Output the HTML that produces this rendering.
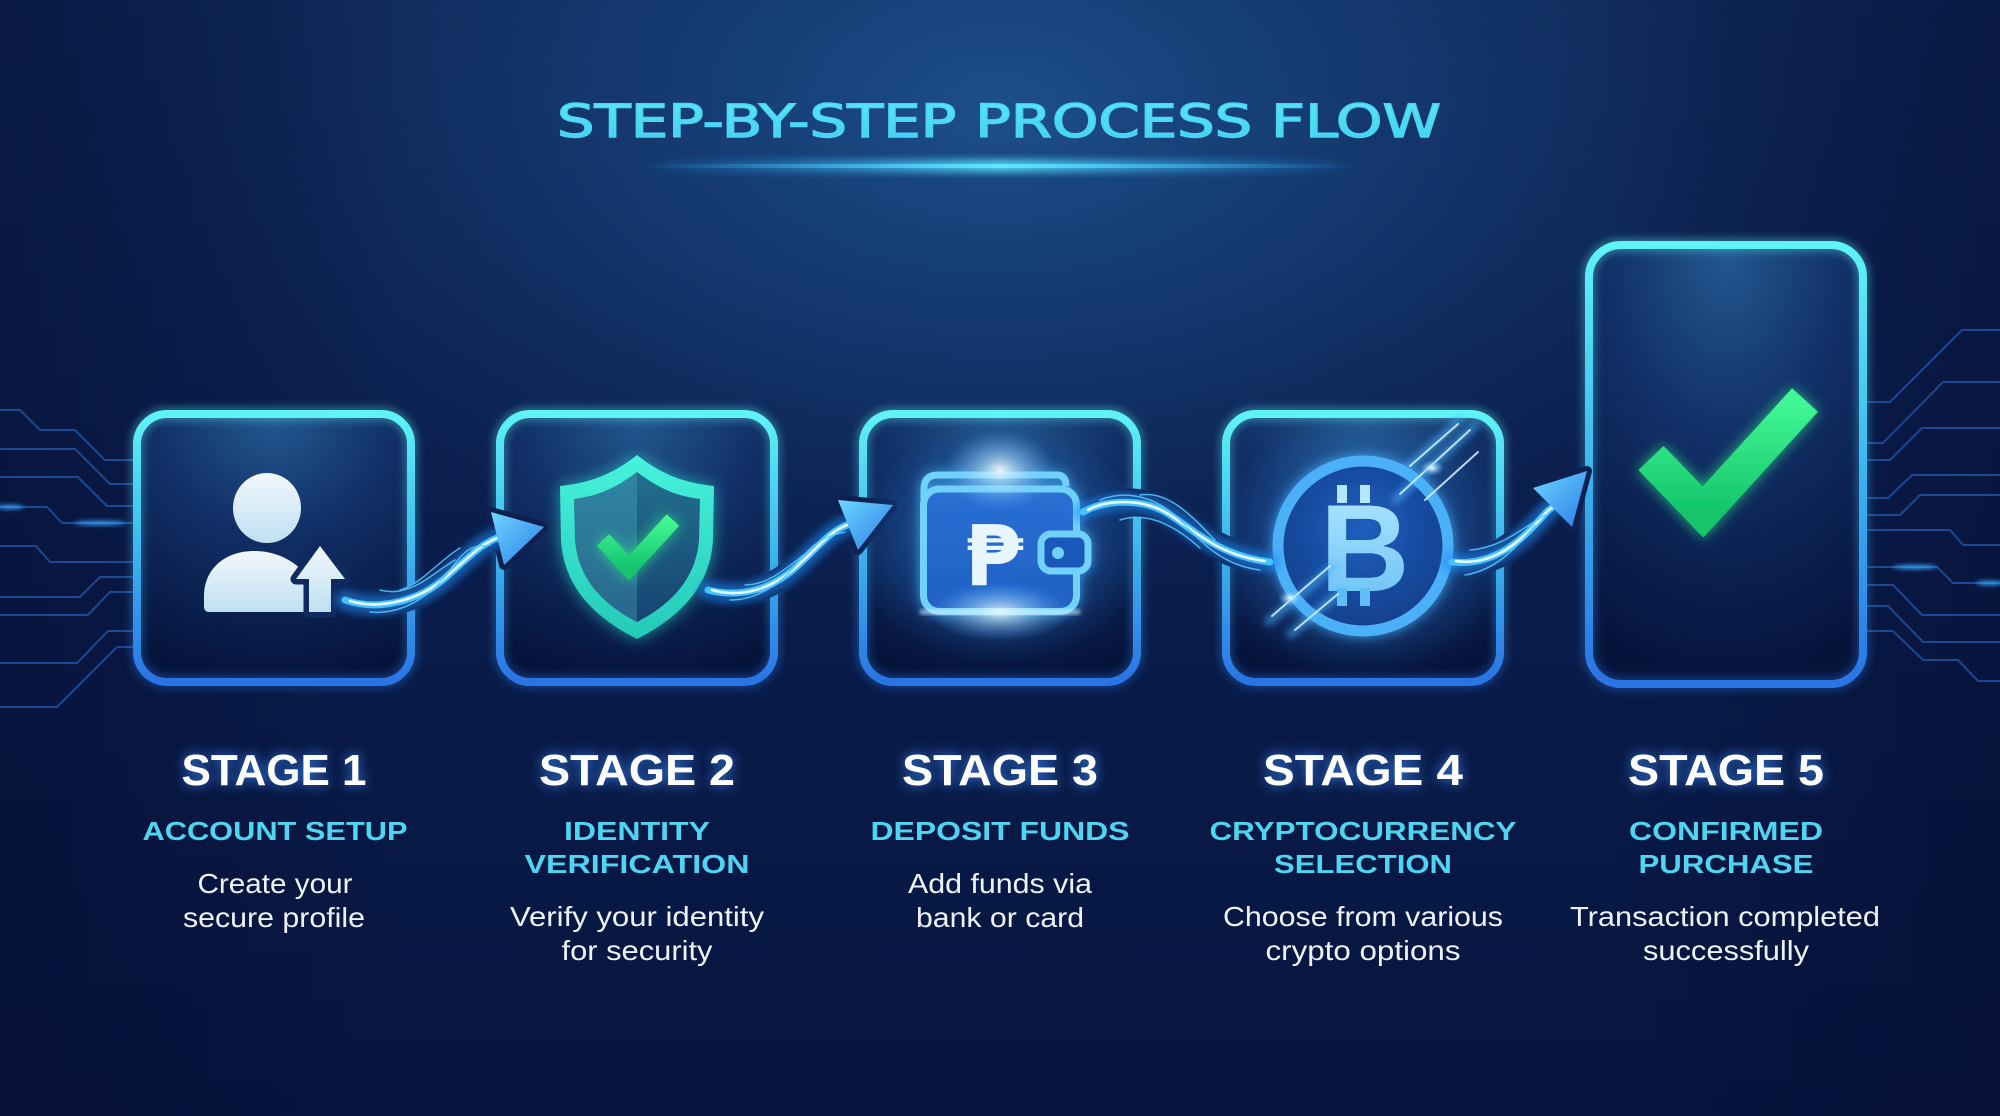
<!DOCTYPE html>
<html><head><meta charset="utf-8">
<style>
html,body{margin:0;padding:0;width:2000px;height:1116px;overflow:hidden;background:#0a1b48}
svg{display:block}
</style></head><body>
<svg width="2000" height="1116" viewBox="0 0 2000 1116" xmlns="http://www.w3.org/2000/svg">
<defs>
  <linearGradient id="bgl" x1="0" y1="0" x2="0" y2="1">
    <stop offset="0" stop-color="#0f2858"/>
    <stop offset="0.5" stop-color="#0a1d4c"/>
    <stop offset="1" stop-color="#07153f"/>
  </linearGradient>
  <radialGradient id="bgr" cx="1000" cy="110" r="900" gradientUnits="userSpaceOnUse" gradientTransform="translate(1000 110) scale(1 0.6) translate(-1000 -110)">
    <stop offset="0" stop-color="#1d4f8b" stop-opacity="1"/>
    <stop offset="0.5" stop-color="#163f78" stop-opacity="0.6"/>
    <stop offset="1" stop-color="#0f2858" stop-opacity="0"/>
  </radialGradient>
  <linearGradient id="vig" x1="0" y1="0" x2="1" y2="0">
    <stop offset="0" stop-color="#050f33" stop-opacity="0.55"/>
    <stop offset="0.2" stop-color="#050f33" stop-opacity="0"/>
    <stop offset="0.8" stop-color="#050f33" stop-opacity="0"/>
    <stop offset="1" stop-color="#050f33" stop-opacity="0.55"/>
  </linearGradient>
  <radialGradient id="boxfill" cx="0.5" cy="0" r="1" fx="0.5" fy="0">
    <stop offset="0" stop-color="#235990"/>
    <stop offset="0.45" stop-color="#112f66"/>
    <stop offset="1" stop-color="#06143c"/>
  </radialGradient>
  <linearGradient id="border" x1="0" y1="0" x2="0" y2="1">
    <stop offset="0" stop-color="#5ff3f6"/>
    <stop offset="0.5" stop-color="#3db6ee"/>
    <stop offset="1" stop-color="#2a74e4"/>
  </linearGradient>
  <linearGradient id="uline" x1="0" y1="0" x2="1" y2="0">
    <stop offset="0" stop-color="#2aa8ff" stop-opacity="0"/>
    <stop offset="0.5" stop-color="#5ce8ff" stop-opacity="1"/>
    <stop offset="1" stop-color="#2aa8ff" stop-opacity="0"/>
  </linearGradient>
  <linearGradient id="person" x1="0" y1="0" x2="0" y2="1">
    <stop offset="0" stop-color="#f2f8fc"/>
    <stop offset="1" stop-color="#bfe0f2"/>
  </linearGradient>
  <linearGradient id="shieldO" x1="0" y1="0" x2="0" y2="1">
    <stop offset="0" stop-color="#47f2dc"/>
    <stop offset="1" stop-color="#25c9b8"/>
  </linearGradient>
  <linearGradient id="shieldI" x1="0" y1="0" x2="0" y2="1">
    <stop offset="0" stop-color="#22708e"/>
    <stop offset="1" stop-color="#174372"/>
  </linearGradient>
  <linearGradient id="green" x1="0" y1="0" x2="0" y2="1">
    <stop offset="0" stop-color="#42f894"/>
    <stop offset="1" stop-color="#14c46c"/>
  </linearGradient>
  <linearGradient id="wallet" x1="0" y1="0" x2="0" y2="1">
    <stop offset="0" stop-color="#2a70d4"/>
    <stop offset="1" stop-color="#2160c4"/>
  </linearGradient>
  <radialGradient id="flare">
    <stop offset="0" stop-color="#ffffff" stop-opacity="1"/>
    <stop offset="0.3" stop-color="#bfe8ff" stop-opacity="0.7"/>
    <stop offset="1" stop-color="#5ab0ff" stop-opacity="0"/>
  </radialGradient>
  <radialGradient id="blueglow">
    <stop offset="0" stop-color="#2f8cf0" stop-opacity="0.6"/>
    <stop offset="1" stop-color="#2f8cf0" stop-opacity="0"/>
  </radialGradient>
  <radialGradient id="coin" cx="0.5" cy="0.4" r="0.6">
    <stop offset="0" stop-color="#1f5fbe"/>
    <stop offset="1" stop-color="#133f8c"/>
  </radialGradient>
  <linearGradient id="btc" x1="0" y1="0" x2="0" y2="1">
    <stop offset="0" stop-color="#b4e8ff"/>
    <stop offset="1" stop-color="#64bef6"/>
  </linearGradient>
  <linearGradient id="arrowG" x1="0" y1="0" x2="1" y2="1">
    <stop offset="0" stop-color="#6fd6ff"/>
    <stop offset="1" stop-color="#2a7ee8"/>
  </linearGradient>
  <linearGradient id="titleG" x1="0" y1="0" x2="0" y2="1">
    <stop offset="0" stop-color="#5ee8f8"/>
    <stop offset="1" stop-color="#3fcdf0"/>
  </linearGradient>
  <filter id="b2" x="-50%" y="-50%" width="200%" height="200%"><feGaussianBlur stdDeviation="2"/></filter>
  <filter id="b4" x="-50%" y="-50%" width="200%" height="200%"><feGaussianBlur stdDeviation="4"/></filter>
  <filter id="b8" x="-50%" y="-50%" width="200%" height="200%"><feGaussianBlur stdDeviation="8"/></filter>
  <filter id="tglow" x="-20%" y="-40%" width="140%" height="180%">
    <feGaussianBlur in="SourceAlpha" stdDeviation="6" result="b"/>
    <feFlood flood-color="#3a8cff" flood-opacity="0.85"/>
    <feComposite in2="b" operator="in" result="g"/>
    <feMerge><feMergeNode in="g"/><feMergeNode in="SourceGraphic"/></feMerge>
  </filter>
  <filter id="gglow" x="-40%" y="-40%" width="180%" height="180%">
    <feGaussianBlur in="SourceAlpha" stdDeviation="7" result="b"/>
    <feFlood flood-color="#2ef08c" flood-opacity="0.7"/>
    <feComposite in2="b" operator="in" result="g"/>
    <feMerge><feMergeNode in="g"/><feMergeNode in="SourceGraphic"/></feMerge>
  </filter>
  <filter id="teal" x="-40%" y="-40%" width="180%" height="180%">
    <feGaussianBlur in="SourceAlpha" stdDeviation="8" result="b"/>
    <feFlood flood-color="#2ee8d0" flood-opacity="0.6"/>
    <feComposite in2="b" operator="in" result="g"/>
    <feMerge><feMergeNode in="g"/><feMergeNode in="SourceGraphic"/></feMerge>
  </filter>
  <filter id="cglow" x="-40%" y="-40%" width="180%" height="180%">
    <feGaussianBlur in="SourceAlpha" stdDeviation="6" result="b"/>
    <feFlood flood-color="#4ab8ff" flood-opacity="0.8"/>
    <feComposite in2="b" operator="in" result="g"/>
    <feMerge><feMergeNode in="g"/><feMergeNode in="SourceGraphic"/></feMerge>
  </filter>
</defs>

<!-- background -->
<rect width="2000" height="1116" fill="url(#bgl)"/>
<rect width="2000" height="1116" fill="url(#bgr)"/>
<rect width="2000" height="1116" fill="url(#vig)"/>

<!-- title -->
<text x="999" y="137" text-anchor="middle" font-family="'DejaVu Sans', sans-serif" font-size="45" textLength="884" lengthAdjust="spacingAndGlyphs" fill="url(#titleG)" stroke="#4ad6f4" stroke-width="1.4">STEP-BY-STEP PROCESS FLOW</text>
<rect x="640" y="160" width="720" height="12" fill="url(#uline)" filter="url(#b4)" opacity="0.9"/>
<rect x="640" y="164" width="720" height="4" fill="url(#uline)"/>

<!-- circuit lines -->
<g fill="none" stroke="#1e4f9c" stroke-width="2" opacity="0.9">
  <path d="M0,410 H20 L40,430 H75 L105,460 H133"/>
  <path d="M0,449 H75 L110,484 H133"/>
  <path d="M0,477 H78 L107,506 H133"/>
  <path d="M0,507 H47 L62,523 H133"/>
  <path d="M0,546 H36 L50,562 H133"/>
  <path d="M0,597 H80 L100,577 H133"/>
  <path d="M0,615 H88 L110,592 H133"/>
  <path d="M0,663 H77 L108,631 H133"/>
  <path d="M0,707 H57 L117,647 H133"/>
  <path d="M1867,402 H1890 L1962,330 H2000"/>
  <path d="M1867,443 H1883 L1943,382 H2000"/>
  <path d="M1867,460 H1890 L1922,428 H2000"/>
  <path d="M1867,498 H1888 L1912,475 H2000"/>
  <path d="M1867,515 H1900 L1920,495 H2000"/>
  <path d="M1867,530 H1950 L1963,545 H2000"/>
  <path d="M1867,567 H1937 L1953,583 H2000"/>
  <path d="M1867,585 H1893 L1922,615 H2000"/>
  <path d="M1867,606 H1888 L1923,642 H2000"/>
  <path d="M1867,631 H1893 L1923,660 H1958 L1978,681 H2000"/>
</g>
<g fill="#3aa8ff" filter="url(#b2)">
  <ellipse cx="10" cy="507" rx="14" ry="2"/>
  <ellipse cx="100" cy="523" rx="26" ry="2"/>
  <ellipse cx="1915" cy="567" rx="22" ry="2"/>
  <ellipse cx="1990" cy="583" rx="14" ry="2"/>
</g>

<!-- boxes -->
<g>
  <rect x="137" y="414" width="274" height="268" rx="30" fill="url(#boxfill)"/>
  <rect x="500" y="414" width="274" height="268" rx="30" fill="url(#boxfill)"/>
  <rect x="863" y="414" width="274" height="268" rx="30" fill="url(#boxfill)"/>
  <rect x="1226" y="414" width="274" height="268" rx="30" fill="url(#boxfill)"/>
  <rect x="1589" y="245" width="274" height="439" rx="32" fill="url(#boxfill)"/>
</g>
<g fill="none" stroke="url(#border)" stroke-width="14" opacity="0.35" filter="url(#b4)">
  <rect x="137" y="414" width="274" height="268" rx="30"/>
  <rect x="500" y="414" width="274" height="268" rx="30"/>
  <rect x="863" y="414" width="274" height="268" rx="30"/>
  <rect x="1226" y="414" width="274" height="268" rx="30"/>
  <rect x="1589" y="245" width="274" height="439" rx="32"/>
</g>
<g fill="none" stroke="url(#border)" stroke-width="8">
  <rect x="137" y="414" width="274" height="268" rx="30"/>
  <rect x="500" y="414" width="274" height="268" rx="30"/>
  <rect x="863" y="414" width="274" height="268" rx="30"/>
  <rect x="1226" y="414" width="274" height="268" rx="30"/>
  <rect x="1589" y="245" width="274" height="439" rx="32"/>
</g>

<!-- connector halos (gaps in borders) -->
<g fill="none" stroke="#0c2150" stroke-linecap="round">
  <path d="M345,600 C380,612 420,600 445,578 S480,545 497,538" stroke-width="24"/>
  <path d="M708,590 C740,598 770,590 795,568 S830,530 850,524" stroke-width="24"/>
  <path d="M1083,512 C1105,500 1140,498 1165,512 S1215,555 1270,562" stroke-width="28"/>
  <path d="M1452,562 C1490,566 1515,545 1530,530 S1545,512 1553,507" stroke-width="28"/>
</g>
<g fill="#0c2150" stroke="#0c2150" stroke-width="10" stroke-linejoin="round">
  <polygon points="491,512 544,527 504,565"/>
  <polygon points="838,500 893,505 858,550"/>
  <polygon points="1533,488 1587,471 1572,527"/>
</g>

<!-- icon 1: person -->
<ellipse cx="267" cy="508" rx="34" ry="35" fill="url(#person)"/>
<path d="M209,612 Q204,612 204,606 L204,596 C204,568 226,551 254,551 C276,551 292,560 304,572 L304,612 Z" fill="url(#person)"/>
<polygon points="320,546 345,579 331,579 331,612 309,612 309,579 296,579" fill="#0f2a5e" stroke="#0f2a5e" stroke-width="11" stroke-linejoin="round"/>
<polygon points="320,546 345,579 331,579 331,612 309,612 309,579 296,579" fill="url(#person)"/>

<!-- icon 2: shield -->
<g filter="url(#teal)">
  <path d="M637,455 C612,475 589,483 560,486 L561,540 C564,587 594,617 637,639 C680,617 710,587 713,540 L714,486 C685,483 662,475 637,455 Z" fill="url(#shieldO)"/>
</g>
<path d="M637,472 C616,488 598,496 574,499 L575,540 C578,578 602,604 637,622 C672,604 696,578 699,540 L700,499 C676,496 658,488 637,472 Z" fill="url(#shieldI)"/>
<path d="M637,472 C616,488 598,496 574,499 L575,540 C578,578 602,604 637,622 Z" fill="#4ab0c4" opacity="0.35"/>
<path d="M603,540 L629,568 L673,520" fill="none" stroke="url(#green)" stroke-width="17" filter="url(#gglow)"/>

<!-- icon 3: wallet -->
<ellipse cx="1000" cy="545" rx="150" ry="120" fill="url(#blueglow)"/>
<g filter="url(#cglow)">
  <rect x="923.5" y="489" width="153" height="122.5" rx="16" fill="url(#wallet)" stroke="#6fd2fb" stroke-width="7"/>
  <path d="M924,502 L924,489 Q924,475 938,475 L1057,475 Q1066,475 1066,486" fill="none" stroke="#6fd2fb" stroke-width="7"/>
  <rect x="1041" y="534" width="47" height="37" rx="10" fill="#1c58bc" stroke="#6fd2fb" stroke-width="7"/>
  <circle cx="1058" cy="553" r="6" fill="#6fd2fb"/>
</g>
<text x="994" y="585" text-anchor="middle" font-family="'DejaVu Sans', sans-serif" font-weight="bold" font-size="84" fill="#e8f7ff">₱</text>
<ellipse cx="1000" cy="470" rx="55" ry="40" fill="url(#flare)" opacity="0.9"/>
<ellipse cx="1000" cy="612" rx="70" ry="30" fill="url(#flare)" opacity="0.85"/>
<rect x="920" y="610" width="160" height="4" fill="#d8f4ff" filter="url(#b2)" opacity="0.8"/>

<!-- icon 4: bitcoin -->
<ellipse cx="1363" cy="546" rx="150" ry="130" fill="url(#blueglow)"/>
<circle cx="1363" cy="546" r="85" fill="url(#coin)" stroke="#4cb0f8" stroke-width="11" filter="url(#cglow)"/>
<text x="1320" y="591" font-family="'Liberation Sans', sans-serif" font-weight="bold" font-size="124" fill="url(#btc)">B</text>
<g fill="#b4e8ff">
  <rect x="1337" y="485" width="10" height="18"/>
  <rect x="1360" y="485" width="10" height="18"/>
</g>
<g fill="#64bef6">
  <rect x="1337" y="588" width="10" height="18"/>
  <rect x="1360" y="588" width="10" height="18"/>
</g>
<g stroke-linecap="round" fill="none">
  <g filter="url(#b4)" stroke="#49b4ff" stroke-width="6" opacity="0.8">
    <line x1="1268" y1="622" x2="1335" y2="565"/>
    <line x1="1290" y1="635" x2="1340" y2="592"/>
    <line x1="1395" y1="500" x2="1475" y2="425"/>
    <line x1="1405" y1="470" x2="1460" y2="420"/>
  </g>
  <g stroke="#d8f4ff" stroke-width="2" opacity="0.85">
    <line x1="1272" y1="616" x2="1330" y2="566"/>
    <line x1="1295" y1="630" x2="1338" y2="594"/>
    <line x1="1400" y1="494" x2="1470" y2="430"/>
    <line x1="1410" y1="466" x2="1458" y2="424"/>
    <line x1="1425" y1="500" x2="1478" y2="452"/>
  </g>
</g>
<ellipse cx="1290" cy="598" rx="12" ry="8" fill="url(#flare)"/>
<ellipse cx="1432" cy="468" rx="12" ry="8" fill="url(#flare)"/>

<!-- icon 5: check -->
<path d="M1651,458 L1703,512 L1805,400" fill="none" stroke="url(#green)" stroke-width="35" stroke-linejoin="miter" filter="url(#gglow)"/>

<!-- connectors -->
<g fill="none" stroke-linecap="round">
  <g stroke="#1e8af5" stroke-width="20" opacity="0.55" filter="url(#b4)">
    <path d="M345,600 C380,612 420,600 445,578 S480,545 497,538"/>
    <path d="M708,590 C740,598 770,590 795,568 S830,530 850,524"/>
    <path d="M1083,512 C1105,500 1140,498 1165,512 S1215,555 1270,562"/>
    <path d="M1452,562 C1490,566 1515,545 1530,530 S1545,512 1553,507"/>
  </g>
  <g stroke="#44c4ff" stroke-width="7">
    <path d="M345,600 C380,612 420,600 445,578 S480,545 497,538"/>
    <path d="M708,590 C740,598 770,590 795,568 S830,530 850,524"/>
    <path d="M1083,512 C1105,500 1140,498 1165,512 S1215,555 1270,562"/>
    <path d="M1452,562 C1490,566 1515,545 1530,530 S1545,512 1553,507"/>
  </g>
  <g stroke="#effcff" stroke-width="2.6">
    <path d="M350,601 C380,610 420,600 445,578 S480,545 497,538"/>
    <path d="M712,590 C740,598 770,590 795,568 S830,530 850,524"/>
    <path d="M1088,510 C1105,500 1140,498 1165,512 S1215,555 1265,561"/>
    <path d="M1456,561 C1490,566 1515,545 1530,530 S1545,512 1553,507"/>
  </g>
  <g stroke="#5ac8ff" stroke-width="1.5" opacity="0.85">
    <path d="M370,612 C400,615 430,598 450,570 S475,548 490,545"/>
    <path d="M400,590 C420,585 440,560 460,548"/>
    <path d="M380,590 C410,598 430,575 455,560"/>
    <path d="M730,600 C760,600 785,580 800,560 S830,535 845,532"/>
    <path d="M745,585 C770,585 790,565 810,550"/>
    <path d="M1100,500 C1130,488 1160,500 1180,520 S1220,565 1260,570"/>
    <path d="M1120,520 C1150,510 1180,530 1200,548"/>
    <path d="M1140,495 C1170,490 1195,520 1215,540"/>
    <path d="M1465,575 C1495,570 1515,550 1535,525"/>
    <path d="M1470,550 C1500,548 1520,530 1545,515"/>
  </g>
</g>
<g>
  <polygon points="491,512 544,527 504,565" fill="url(#arrowG)"/>
  <polygon points="838,500 893,505 858,550" fill="url(#arrowG)"/>
  <polygon points="1533,488 1587,471 1572,527" fill="url(#arrowG)"/>
</g>

<!-- stage labels -->
<g font-family="'Liberation Sans', sans-serif" font-weight="bold" font-size="44" fill="#ffffff" text-anchor="middle" filter="url(#tglow)">
  <text x="274" y="785" textLength="185" lengthAdjust="spacingAndGlyphs">STAGE 1</text>
  <text x="637" y="785" textLength="196" lengthAdjust="spacingAndGlyphs">STAGE 2</text>
  <text x="1000" y="785" textLength="196" lengthAdjust="spacingAndGlyphs">STAGE 3</text>
  <text x="1363" y="785" textLength="200" lengthAdjust="spacingAndGlyphs">STAGE 4</text>
  <text x="1726" y="785" textLength="196" lengthAdjust="spacingAndGlyphs">STAGE 5</text>
</g>
<g font-family="'Liberation Sans', sans-serif" font-weight="bold" font-size="26" fill="#4fd5f2" text-anchor="middle">
  <text x="275" y="840" textLength="265" lengthAdjust="spacingAndGlyphs">ACCOUNT SETUP</text>
  <text x="637" y="840" textLength="146" lengthAdjust="spacingAndGlyphs">IDENTITY</text>
  <text x="637" y="873" textLength="225" lengthAdjust="spacingAndGlyphs">VERIFICATION</text>
  <text x="1000" y="840" textLength="259" lengthAdjust="spacingAndGlyphs">DEPOSIT FUNDS</text>
  <text x="1363" y="840" textLength="307" lengthAdjust="spacingAndGlyphs">CRYPTOCURRENCY</text>
  <text x="1363" y="873" textLength="178" lengthAdjust="spacingAndGlyphs">SELECTION</text>
  <text x="1726" y="840" textLength="194" lengthAdjust="spacingAndGlyphs">CONFIRMED</text>
  <text x="1726" y="873" textLength="175" lengthAdjust="spacingAndGlyphs">PURCHASE</text>
</g>
<g font-family="'Liberation Sans', sans-serif" font-size="28" fill="#eef3fa" text-anchor="middle">
  <text x="275" y="893" textLength="155" lengthAdjust="spacingAndGlyphs">Create your</text>
  <text x="274" y="927" textLength="182" lengthAdjust="spacingAndGlyphs">secure profile</text>
  <text x="637" y="926" textLength="254" lengthAdjust="spacingAndGlyphs">Verify your identity</text>
  <text x="637" y="960" textLength="151" lengthAdjust="spacingAndGlyphs">for security</text>
  <text x="1000" y="893" textLength="184" lengthAdjust="spacingAndGlyphs">Add funds via</text>
  <text x="1000" y="927" textLength="168" lengthAdjust="spacingAndGlyphs">bank or card</text>
  <text x="1363" y="926" textLength="280" lengthAdjust="spacingAndGlyphs">Choose from various</text>
  <text x="1363" y="960" textLength="195" lengthAdjust="spacingAndGlyphs">crypto options</text>
  <text x="1725" y="926" textLength="310" lengthAdjust="spacingAndGlyphs">Transaction completed</text>
  <text x="1726" y="960" textLength="166" lengthAdjust="spacingAndGlyphs">successfully</text>
</g>
</svg>
</body></html>
